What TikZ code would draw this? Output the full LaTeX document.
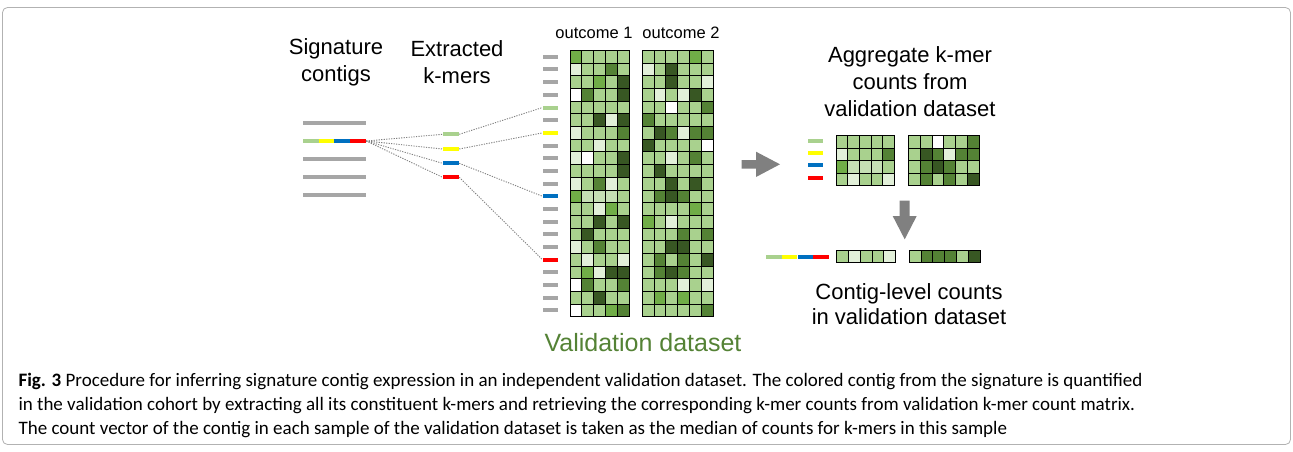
\documentclass[tikz,border=0pt]{standalone}
\usepackage{fontspec}
\setmainfont{Liberation Sans}
\newfontfamily\capfont{Carlito}
\usepackage{tikz}
% count shades
\definecolor{kL}{HTML}{A9D18E}
\definecolor{kV}{HTML}{E2F0D9}
\definecolor{kP}{HTML}{C5E0B4}
\definecolor{kW}{HTML}{FFFFFF}
\definecolor{kM}{HTML}{70AD47}
\definecolor{kD}{HTML}{548235}
\definecolor{kX}{HTML}{385723}
% k-mer colours
\definecolor{sgreen}{HTML}{A9D18E}
\definecolor{syellow}{HTML}{FFFF00}
\definecolor{sblue}{HTML}{0070C0}
\definecolor{sred}{HTML}{FF0000}
\definecolor{sgray}{HTML}{A6A6A6}
\definecolor{agray}{HTML}{808080}
\newcommand{\kgrid}[5]{%
  \foreach \rw [count=\i from 0] in {#5} {
    \foreach \cc [count=\j from 0] in \rw {
      \draw[cell, fill=k\cc] ({#1+\j*#3},{#2+\i*#4}) rectangle ++(#3,#4);
    }
  }
}
\tikzset{
  cell/.style={draw=black, line width=0.9pt},
  bar/.style={inner sep=0pt, minimum height=4pt, minimum width=15.8pt},
  link/.style={draw=agray, line width=0.9pt, dash pattern=on 1.2pt off 1.3pt},
  lbl/.style={align=center, font=\fontsize{22}{26.7}\selectfont},
  capline/.style={anchor=base west, font=\capfont\fontsize{19}{24}\selectfont},
}
\begin{document}
\begin{tikzpicture}[x=1pt,y=-1pt]
\useasboundingbox (0,0) rectangle (1293,452);
\fill[white] (0,0) rectangle (1293,452);
\draw[draw=gray!60, line width=0.8pt, rounded corners=5pt] (2.5,7.5) rectangle (1290.5,444.5);

% signature contigs
\foreach \yy [count=\i] in {122.5,158.7,176.7,194.7}
  \node[bar, fill=sgray, minimum width=63.3pt] (g\i) at (334.4,\yy) {};
\node[bar, fill=sgreen] (c1) at (310.6,141) {};
\node[bar, fill=syellow] (c2) at (326.4,141) {};
\node[bar, fill=sblue] (c3) at (342.3,141) {};
\node[bar, fill=sred] (c4) at (358.1,141) {};
\node[lbl] (sig) at (336,62) {Signature\\contigs};

% extracted k-mers
\foreach \cl/\yy [count=\i] in {sgreen/134.3,syellow/149,sblue/163.3,sred/177.3}
  \node[bar, fill=\cl, minimum width=16.3pt] (k\i) at (450.9,\yy) {};
\node[lbl] (ext) at (457,62) {Extracted\\k-mers};

% k-mer rows of the count matrix
\foreach \cl [count=\i from 0] in {sgray,sgray,sgray,sgray,sgreen,sgray,syellow,sgray,sgray,sgray,sgray,sblue,sgray,sgray,sgray,sgray,sred,sgray,sgray,sgray,sgray} {
  \pgfmathsetmacro\yy{56.8+12.68*\i}
  \node[bar, fill=\cl, minimum width=15.6pt] (d\i) at (550.5,\yy) {};
}

\foreach \i in {1,...,4}
  \draw[link] (c4.east) -- (k\i.west);
\draw[link] (k1.east) -- (d4.west);
\draw[link] (k2.east) -- (d6.west);
\draw[link] (k3.east) -- (d11.west);
\draw[link] (k4.east) -- (d16.west);

% validation count matrix
\kgrid{570}{50.5}{11.87}{12.68}{{M,L,L,L,L},{V,L,L,D,L},{L,L,M,L,X},{W,D,L,L,X},{L,L,L,L,L},{L,L,X,V,X},{V,L,L,L,D},{L,L,V,L,L},{V,W,L,L,X},{L,L,L,L,X},{V,L,D,V,L},{M,P,P,P,L},{L,L,V,M,L},{L,L,X,L,X},{L,X,L,L,L},{V,L,D,L,L},{L,V,L,L,V},{L,M,V,X,X},{W,D,L,L,D},{L,L,X,L,L},{W,L,L,M,D}}
\kgrid{642.3}{50.5}{11.8}{12.68}{{L,L,L,L,M,L},{V,L,X,L,L,L},{L,L,X,L,L,V},{L,V,L,V,X,L},{L,L,W,L,L,D},{D,L,L,L,L,L},{L,X,D,V,D,D},{X,L,L,L,L,W},{L,L,V,L,D,L},{L,X,L,L,L,L},{L,L,X,L,X,L},{L,D,X,D,L,L},{L,L,L,L,M,L},{M,L,V,L,L,L},{L,L,L,D,L,D},{L,L,X,X,L,L},{L,D,L,D,L,X},{L,D,X,D,L,L},{L,L,L,V,L,V},{L,M,L,M,L,L},{L,L,L,L,L,D}}
\node[font=\fontsize{16.5}{20}\selectfont] (out1) at (594,33) {outcome 1};
\node[font=\fontsize{16.5}{20}\selectfont] (out2) at (681,33) {outcome 2};
\node[font=\fontsize{25}{30}\selectfont, text=kD] (val) at (643,343) {Validation dataset};

% aggregate step
\fill[agray] (741.7,160) -- (756,160) -- (756,151.7) -- (780,164.3) -- (756,177) -- (756,168.6) -- (741.7,168.6) -- cycle;
\node[lbl] (agg) at (910,81.7) {Aggregate k-mer\\counts from\\validation dataset};
\foreach \cl/\yy [count=\i] in {sgreen/141,syellow/153.3,sblue/165.3,sred/177.7}
  \node[bar, fill=\cl, minimum width=15pt] (a\i) at (815.8,\yy) {};
\kgrid{836}{135.7}{11.67}{12.5}{{L,L,L,L,L},{V,L,L,L,D},{M,P,P,P,L},{L,V,L,L,V}}
\kgrid{908.3}{135.7}{11.83}{12.5}{{L,L,W,L,L,D},{L,X,D,V,D,D},{L,D,X,D,L,L},{L,D,L,D,L,X}}

% contig-level counts
\fill[agray] (899.7,200.7) -- (909.7,200.7) -- (909.7,216) -- (916.7,216) -- (904.7,239.3) -- (892.7,216) -- (899.7,216) -- cycle;
\node[bar, fill=sgreen, minimum width=15.75pt] (r1) at (773.9,257.3) {};
\node[bar, fill=syellow, minimum width=15.75pt] (r2) at (789.6,257.3) {};
\node[bar, fill=sblue, minimum width=15.75pt] (r3) at (805.4,257.3) {};
\node[bar, fill=sred, minimum width=15.75pt] (r4) at (821.1,257.3) {};
\kgrid{836.7}{250}{11.8}{12.7}{{L,V,L,L,V}}
\kgrid{909.3}{250}{11.78}{12.7}{{L,D,D,D,L,X}}
\node[align=center, font=\fontsize{22}{25}\selectfont] (cl) at (909,304) {Contig-level counts\\in validation dataset};

% caption
\node[capline] (cap1) at (15,386) {\textbf{Fig. 3} Procedure for inferring signature contig expression in an independent validation dataset. The colored contig from the signature is quantified};
\node[capline] (cap2) at (15,410) {in the validation cohort by extracting all its constituent k-mers and retrieving the corresponding k-mer counts from validation k-mer count matrix.};
\node[capline] (cap3) at (15,434) {The count vector of the contig in each sample of the validation dataset is taken as the median of counts for k-mers in this sample};
\end{tikzpicture}
\end{document}
